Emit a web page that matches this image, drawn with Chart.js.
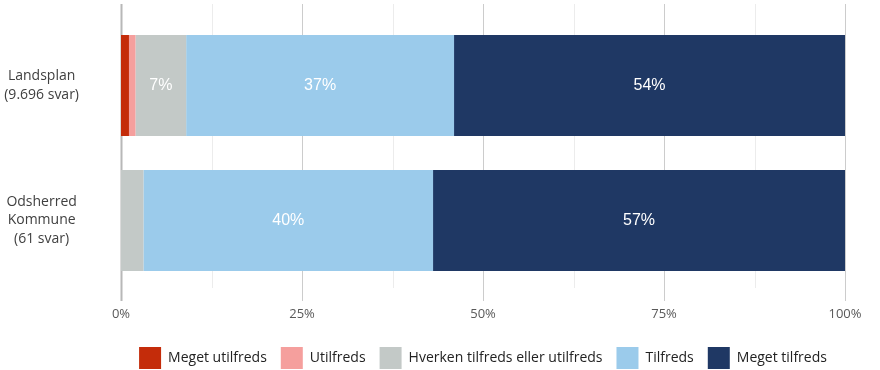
<!DOCTYPE html>
<html>
<head>
<meta charset="utf-8">
<script src="https://cdn.jsdelivr.net/npm/chart.js@4"></script>
<style>
  html, body { margin: 0; padding: 0; background: #ffffff; }
  #wrap { width: 880px; height: 370px; position: relative; }
</style>
</head>
<body>
<div id="wrap"><canvas id="c" width="880" height="370"></canvas></div>
<script>
// ---- data ----
const categories = [["Landsplan", "(9.696 svar)"], ["Odsherred", "Kommune", "(61 svar)"]];
const seriesNames = ["Meget utilfreds", "Utilfreds", "Hverken tilfreds eller utilfreds", "Tilfreds", "Meget tilfreds"];
const megetUtilfreds = [1.1, 0];
const utilfreds = [0.9, 0];
const hverken = [7, 3.1];
const tilfreds = [37, 40];
const megetTilfreds = [54, 56.9];
const tickValues = [0, 25, 50, 75, 100];
const seriesColors = ["#c42c0a", "#f59f9d", "#c3c9c7", "#9bcbeb", "#1f3864"];

const seriesValues = [megetUtilfreds, utilfreds, hverken, tilfreds, megetTilfreds];

const gridPlugin = {
  id: 'extGrid',
  beforeDatasetsDraw(chart) {
    const x = chart.scales.x;
    const ca = chart.chartArea;
    const ctx = chart.ctx;
    ctx.save();
    x.ticks.forEach(t => {
      const px = Math.round(x.getPixelForValue(t.value)) + 0.5;
      const major = tickValues.includes(t.value);
      ctx.strokeStyle = t.value === 0 ? '#b8b8b8' : (major ? '#cccccc' : '#ececec');
      ctx.lineWidth = t.value === 0 ? 2 : 1;
      ctx.beginPath();
      ctx.moveTo(px, ca.top - 14);
      ctx.lineTo(px, ca.bottom + (major ? 13 : 0));
      ctx.stroke();
    });
    ctx.restore();
  }
};

const labelPlugin = {
  id: 'barLabels',
  afterDatasetsDraw(chart) {
    const ctx = chart.ctx;
    ctx.save();
    ctx.font = '16px "Liberation Sans", Arial, sans-serif';
    ctx.fillStyle = '#ffffff';
    ctx.textAlign = 'center';
    ctx.textBaseline = 'middle';
    chart.data.datasets.forEach((ds, di) => {
      const meta = chart.getDatasetMeta(di);
      meta.data.forEach((el, i) => {
        const v = ds.data[i];
        if (v >= 5) {
          const p = el.getProps(['x', 'y', 'base'], true);
          ctx.fillText(Math.round(v) + '%', (p.x + p.base) / 2, p.y);
        }
      });
    });
    ctx.restore();
  }
};

const legendShift = {
  id: 'legendShift',
  afterLayout(chart) {
    const lg = chart.legend;
    const ca = chart.chartArea;
    lg.left = ca.left;
    lg.right = ca.right;
    lg.top += 9;
    lg.bottom += 9;
  }
};

new Chart(document.getElementById('c'), {
  type: 'bar',
  data: {
    labels: categories,
    datasets: seriesNames.map((n, i) => ({
      label: n,
      data: seriesValues[i],
      backgroundColor: seriesColors[i],
      borderWidth: 0,
      categoryPercentage: 1,
      barPercentage: 0.748
    }))
  },
  options: {
    indexAxis: 'y',
    responsive: false,
    animation: false,
    devicePixelRatio: 1,
    layout: { padding: { top: 18, right: 35, left: 0, bottom: 0 } },
    scales: {
      x: {
        stacked: true,
        min: 0,
        max: 100,
        grid: { display: false, drawTicks: false },
        border: { display: false },
        afterFit(s) { s.height = 36; s.paddingLeft = 0; s.paddingRight = 0; },
        ticks: {
          stepSize: 12.5,
          autoSkip: false,
          maxRotation: 0,
          padding: 18,
          color: '#595959',
          font: { family: '"Open Sans", sans-serif', size: 13 },
          callback: v => tickValues.includes(v) ? v + '%' : ''
        }
      },
      y: {
        stacked: true,
        grid: { display: false, drawTicks: false },
        border: { display: false },
        afterFit(s) { s.width = 121; s.paddingTop = 0; s.paddingBottom = 0; },
        ticks: {
          crossAlign: 'center',
          padding: 42,
          color: '#404040',
          font: { family: '"Open Sans", sans-serif', size: 14, lineHeight: 1.3 }
        }
      }
    },
    plugins: {
      legend: {
        position: 'bottom',
        labels: {
          boxWidth: 22,
          boxHeight: 22,
          padding: 14,
          color: '#222222',
          font: { family: '"Open Sans", sans-serif', size: 14 }
        }
      },
      tooltip: { enabled: false }
    }
  },
  plugins: [gridPlugin, labelPlugin, legendShift]
});
</script>
</body>
</html>
